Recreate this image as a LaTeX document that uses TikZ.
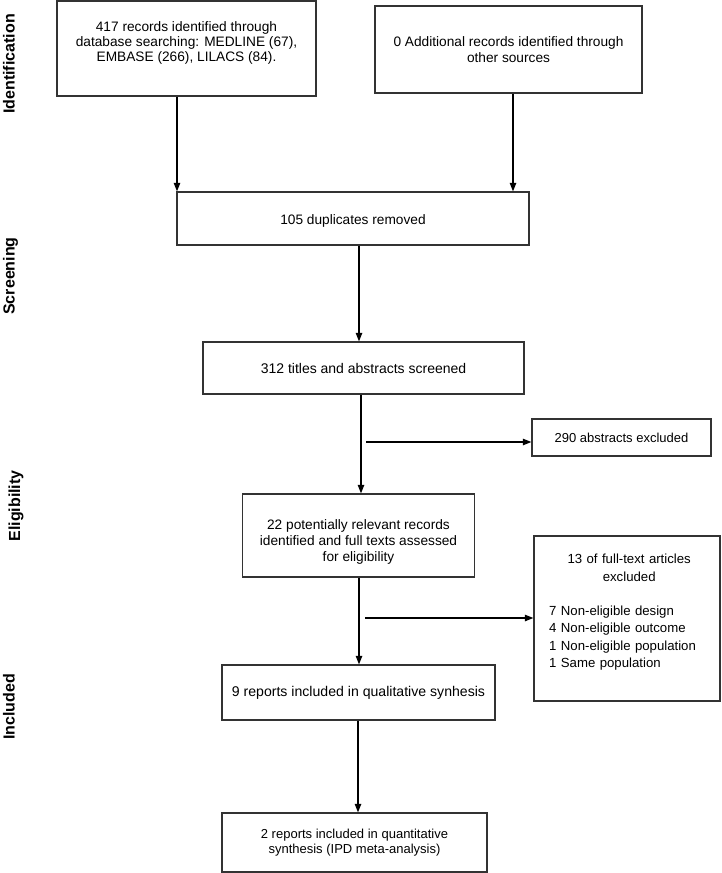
\documentclass[tikz,border=0pt]{standalone}
\usepackage{fontspec}
\setmainfont{Liberation Sans}
\usetikzlibrary{arrows.meta}
\begin{document}
\begin{tikzpicture}[x=1pt,y=-1pt,
  box/.style={draw=black!80, line width=1.3pt, inner sep=0pt, align=center,
    font=\fontsize{13.7}{16}\selectfont},
  txt/.style={inner sep=0pt, font=\fontsize{13.2}{17.3}\selectfont},
  arr/.style={-{Triangle[length=8.5pt,width=6.5pt]}, line width=1.1pt},
  phase/.style={font=\bfseries\fontsize{16}{16}\selectfont, rotate=90, anchor=base, inner sep=0pt}]
\useasboundingbox (0,0) rectangle (722,873);

% phase labels
\node[phase] (pI) at (14.5,64) {Identification};
\node[phase] (pS) at (14.5,276) {Screening};
\node[phase] (pE) at (20,506) {Eligibility};
\node[phase] (pC) at (14.5,707) {Included};

% boxes
\node[box, minimum width=259, minimum height=95, font=\fontsize{13.7}{15}\selectfont] (b1) at (186.5,48.5)
  {417 records identified through\\database searching: MEDLINE (67),\\EMBASE (266), LILACS (84).\rule[-14pt]{0pt}{14pt}};
\node[box, minimum width=267, minimum height=87] (b2) at (508.5,49.5)
  {0 Additional records identified through\\other sources};
\node[box, minimum width=352, minimum height=53] (b3) at (353,218.5)
  {\rule{0pt}{14pt}105 duplicates removed};
\node[box, minimum width=321, minimum height=52, font=\fontsize{14}{16}\selectfont] (b4) at (363.5,368)
  {312 titles and abstracts screened};
\node[box, minimum width=179, minimum height=37, font=\fontsize{13}{16}\selectfont] (ex1) at (621.5,437.5)
  {290 abstracts excluded};
\node[box, minimum width=232, minimum height=83] (b5) at (358.5,535.5)
  {\rule{0pt}{22pt}22 potentially relevant records\\identified and full texts assessed\\for eligibility};
\node[box, minimum width=186, minimum height=165] (ex2) at (627,618.5) {};
\node[txt, anchor=north west, text width=160, align=left] (ex2t) at (549,554)
  {\centering 13 of full-text articles\\excluded\par
   \vspace{17.3pt}\raggedright
   7 Non-eligible design\\4 Non-eligible outcome\\1 Non-eligible population\\1 Same population\par};
\node[box, minimum width=273, minimum height=55, font=\fontsize{14.1}{16}\selectfont] (b6) at (358.5,692.5)
  {9 reports included in qualitative synhesis};
\node[box, minimum width=265, minimum height=59, font=\fontsize{13}{15.6}\selectfont] (b7) at (354.5,842.5)
  {2 reports included in quantitative\\synthesis (IPD meta-analysis)};

% connectors
\coordinate (s1) at (366,442);
\coordinate (s2) at (365,618);
\draw[arr] (177,0 |- b1.south) -- (177,0 |- b3.north);
\draw[arr] (513,0 |- b2.south) -- (513,0 |- b3.north);
\draw[arr] (359,0 |- b3.south) -- (359,0 |- b4.north);
\draw[arr] (361,0 |- b4.south) -- (361,0 |- b5.north);
\draw[arr] (s1) -- (s1 -| ex1.west);
\draw[arr] (359,0 |- b5.south) -- (359,0 |- b6.north);
\draw[arr] (s2) -- (s2 -| ex2.west);
\draw[arr] (358,0 |- b6.south) -- (358,0 |- b7.north);
\end{tikzpicture}
\end{document}
